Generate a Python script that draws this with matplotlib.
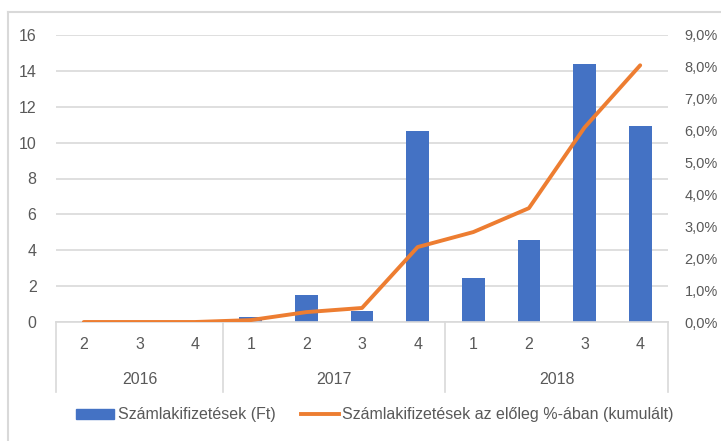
import matplotlib
matplotlib.use("Agg")
import matplotlib.pyplot as plt
import matplotlib.transforms as mtransforms
from matplotlib.lines import Line2D
from matplotlib.patches import Patch
from matplotlib.ticker import FuncFormatter, MultipleLocator

plt.rcParams['font.family'] = ['Liberation Sans', 'DejaVu Sans']

years = ['2016', '2017', '2018']
quarters = ['2', '3', '4', '1', '2', '3', '4', '1', '2', '3', '4']
year_spans = [3, 4, 4]
payments = [0, 0, 0, 0.28, 1.5, 0.61, 10.65, 2.45, 4.57, 14.38, 10.93]
cum_pct = [0.0, 0.0, 0.0, 0.06, 0.31, 0.44, 2.35, 2.82, 3.57, 6.1, 8.05]

blue = '#4472C4'
orange = '#ED7D31'
grey_txt = '#595959'
grid_c = '#D9D9D9'

fig = plt.figure(figsize=(7.21, 4.41), dpi=100)
ax = fig.add_axes([56/721, (441-322)/441, (668-56)/721, (322-35)/441])
x = list(range(len(quarters)))

ax.bar(x, payments, width=0.41, color=blue, zorder=2)
ax.set_xlim(-0.5, len(quarters) - 0.5)
ax.set_ylim(0, 16)
ax.yaxis.set_major_locator(MultipleLocator(2))
ax.grid(axis='y', color=grid_c, lw=1.2, zorder=0)
ax.set_axisbelow(True)
for s in ['top', 'right', 'left']:
    ax.spines[s].set_visible(False)
ax.spines['bottom'].set_color(grid_c)
ax.spines['bottom'].set_linewidth(1.2)
ax.tick_params(axis='y', length=0, labelsize=11.5, labelcolor=grey_txt, pad=14)
ax.set_xticks([])

ax2 = ax.twinx()
ax2.plot(x, cum_pct, color=orange, lw=2.8, solid_capstyle='round', zorder=3)
ax2.set_ylim(0, 9)
ax2.yaxis.set_major_locator(MultipleLocator(1))
ax2.yaxis.set_major_formatter(FuncFormatter(lambda v, p: f"{v:.1f}%".replace('.', ',')))
for s in ['top', 'right', 'left', 'bottom']:
    ax2.spines[s].set_visible(False)
ax2.tick_params(axis='y', length=0, labelsize=10.5, labelcolor=grey_txt, pad=12)

# multi-level category axis
trans = mtransforms.blended_transform_factory(ax.transData, ax.transAxes)
for i, q in enumerate(quarters):
    ax.text(i, -0.08, q, transform=trans, ha='center', va='center',
            fontsize=11.5, color=grey_txt)
start = -0.5
bounds = [start]
for y, n in zip(years, year_spans):
    ax.text(start + n / 2, -0.202, y, transform=trans, ha='center', va='center',
            fontsize=11.5, color=grey_txt)
    start += n
    bounds.append(start)
for b in bounds:
    ax.plot([b, b], [0, -0.244], transform=trans, color=grid_c, lw=1.2, clip_on=False)

handles = [Patch(color=blue, label='Számlakifizetések (Ft)'),
           Line2D([], [], color=orange, lw=2.8, label='Számlakifizetések az előleg %-ában (kumulált)')]
fig.legend(handles=handles, loc='center', bbox_to_anchor=(0.52, 0.059), ncol=2,
           frameon=False, fontsize=11.5, labelcolor=grey_txt, handlelength=2.4,
           handleheight=0.6, handletextpad=0.2, columnspacing=1.6)

# outer chart frame
fig.add_artist(Line2D([8/721, 8/721], [0, 1 - 12/441], color=grid_c, lw=1.5))
fig.add_artist(Line2D([8/721, 1], [1 - 12/441, 1 - 12/441], color=grid_c, lw=1.5))

fig.savefig('out.png', dpi=100)
